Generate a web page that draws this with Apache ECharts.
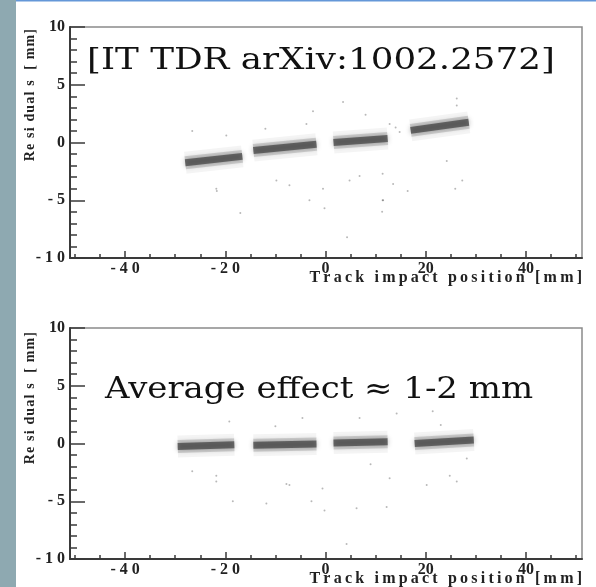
<!DOCTYPE html>
<html>
<head>
<meta charset="utf-8">
<script src="https://cdn.jsdelivr.net/npm/echarts@6/dist/echarts.min.js"></script>
<style>
html, body { margin: 0; padding: 0; background: #fff; }
#chart { width: 596px; height: 587px; }
</style>
</head>
<body>
<div id="chart"></div>
<script>
// silicon modules: band start/end (x in mm) and mean residual at each end (mm)
var moduleNames = ['M1', 'M2', 'M3', 'M4'];
var topXStart = [-28.0, -14.4, 1.6, 17.0];
var topXEnd   = [-16.6, -1.8, 12.4, 28.6];
var topYStart = [-1.75, -0.7, 0.0, 1.05];
var topYEnd   = [-1.2, -0.15, 0.35, 1.75];
var botXStart = [-29.5, -14.4, 1.6, 17.8];
var botXEnd   = [-18.2, -1.8, 12.4, 29.6];
var botYStart = [-0.25, -0.15, 0.05, 0.0];
var botYEnd   = [-0.1, -0.05, 0.15, 0.3];

// sparse hits away from the bands
var topStray = [[-21.7, -4.2], [-17, -6.1], [-0.5, -4.0], [-3.2, -5.0], [11.5, -5.0], [11.3, -6.0],
  [16.4, -4.2], [25.9, -4.0], [27.3, -3.3], [4.3, -8.2], [-0.2, -5.7], [13.5, -3.6],
  [-2.5, 2.7], [3.5, 3.5], [12.8, 1.6], [14.8, 0.9], [26.2, 3.2], [11.4, -2.7], [6.8, -2.9],
  [24.2, -1.6], [26.2, 3.8], [-21.8, -4.0], [-9.8, -3.3], [-7.2, -3.7], [-26.6, 1.0],
  [-19.8, 0.6], [-3.8, 1.6], [4.8, -3.3], [11.4, -5.0], [14.0, 1.3], [-12, 1.2], [8, 2.4]];
var botStray = [[-21.8, -2.8], [-7.2, -3.6], [-0.6, -3.9], [12.8, -3.0], [20.2, -3.6], [24.8, -2.8],
  [-19.2, 1.9], [-4.6, 2.2], [6.8, 2.2], [14.2, 2.6], [21.4, 2.8], [-26.6, -2.4], [28.2, -1.3],
  [-2.8, -5.0], [6.2, -5.6], [12.2, -5.5], [26.2, -3.3], [4.2, -8.7], [-0.2, -5.8],
  [-21.8, -3.3], [-18.5, -5.0], [-11.8, -5.2], [-7.8, -3.5], [-10, 1.5], [9, -1.8], [23, 1.6]];

var xMajor = [-40, -20, 0, 20, 40];
var xTickLabels = ['- 4 0', '- 2 0', '0', '20', '40'];
var xMinor = [-50, -45, -35, -30, -25, -15, -10, -5, 5, 10, 15, 25, 30, 35, 45, 50];
var yMajor = [-10, -5, 0, 5, 10];
var yTickLabels = ['- 1 0', '- 5', '0', '5', '10'];

var xTitle = 'Track impact position [mm]';
var yTitle = 'Re si dual s  [ mm]';
var topNote = '[IT TDR arXiv:1002.2572]';
var botNote = 'Average effect \u2248 1-2 mm';

function spaced(s, gap) {
  return s.split('').join(gap);
}

var chart = echarts.init(document.getElementById('chart'));
var axisColor = '#3a3a3a';
var tickFont = { fontFamily: 'Liberation Serif', fontWeight: 'bold', fontSize: 16, color: '#222' };
var panels = [{ top: 27 }, { top: 328 }];

var grids = [], xAxes = [], yAxes = [], series = [];

// soft band look: faint halo, medium, dark core
var bandLayers = [
  { w: 22, c: 'rgba(0,0,0,0.045)', blur: 6 },
  { w: 13, c: 'rgba(0,0,0,0.14)', blur: 5 },
  { w: 7, c: 'rgba(40,40,40,0.58)', blur: 5 }
];

panels.forEach(function (p, g) {
  grids.push({ left: 70, top: p.top, width: 512, height: 231, show: true,
    borderColor: '#8a8a8a', borderWidth: 1.5 });
  xAxes.push({
    type: 'value', gridIndex: g, min: -51, max: 51.2, position: 'bottom',
    axisLine: { onZero: false, lineStyle: { color: axisColor, width: 2 } },
    axisTick: { inside: true, length: 7, customValues: xMajor, lineStyle: { color: axisColor, width: 1.5 } },
    axisLabel: Object.assign({ customValues: xMajor, margin: 3,
      formatter: function (v) { return xTickLabels[xMajor.indexOf(v)]; } }, tickFont),
    splitLine: { show: false }
  });
  xAxes.push({
    type: 'value', gridIndex: g, min: -51, max: 51.2, position: 'bottom',
    axisLine: { show: false, onZero: false },
    axisTick: { inside: true, length: 4, customValues: xMinor, lineStyle: { color: axisColor, width: 1.5 } },
    axisLabel: { show: false },
    splitLine: { show: false }
  });
  yAxes.push({
    type: 'value', gridIndex: g, min: -10, max: 10, interval: 5,
    axisLine: { show: true, onZero: false, lineStyle: { color: axisColor, width: 2 } },
    axisTick: { inside: true, length: 15, lineStyle: { color: axisColor, width: 1.5 } },
    minorTick: { show: true, splitNumber: 5, length: 7, lineStyle: { color: axisColor, width: 1.5 } },
    axisLabel: Object.assign({ margin: 5,
      formatter: function (v) { return yTickLabels[yMajor.indexOf(v)]; } }, tickFont),
    splitLine: { show: false }
  });

  var xs = g === 0 ? topXStart : botXStart;
  var xe = g === 0 ? topXEnd : botXEnd;
  var ys = g === 0 ? topYStart : botYStart;
  var ye = g === 0 ? topYEnd : botYEnd;
  bandLayers.forEach(function (L) {
    moduleNames.forEach(function (m, i) {
      series.push({
        name: m, type: 'line', xAxisIndex: g * 2, yAxisIndex: g,
        symbol: 'none', silent: true,
        data: [[xs[i], ys[i]], [xe[i], ye[i]]],
        lineStyle: { width: L.w, color: L.c, cap: 'butt', shadowBlur: L.blur, shadowColor: L.c }
      });
    });
  });
  series.push({
    type: 'scatter', xAxisIndex: g * 2, yAxisIndex: g, silent: true,
    symbolSize: 2, data: g === 0 ? topStray : botStray,
    itemStyle: { color: 'rgba(0,0,0,0.35)' }
  });
});

var titleStyle = { fontFamily: 'Liberation Serif', fontWeight: 'bold', fontSize: 16, fill: '#222' };
var yTitleStyle = { fontFamily: 'Liberation Serif', fontWeight: 'bold', fontSize: 14, fill: '#222' };
var noteStyle = { fontFamily: 'DejaVu Serif', fontSize: 29, fill: '#111' };

function textEl(x, y, rot, text, base, align, sx) {
  return { type: 'text', x: x, y: y, rotation: rot, scaleX: sx || 1,
    style: Object.assign({ text: text, align: align, verticalAlign: 'middle' }, base) };
}

chart.setOption({
  animation: false,
  backgroundColor: '#fff',
  grid: grids,
  xAxis: xAxes,
  yAxis: yAxes,
  series: series,
  graphic: [
    { type: 'rect', shape: { x: 0, y: 0, width: 16, height: 587 }, style: { fill: '#8ea9b1' } },
    { type: 'rect', shape: { x: 16, y: 0, width: 580, height: 1.5 }, style: { fill: '#6497d8' } },
    textEl(582, 278, 0, spaced(xTitle, '\u2009'), titleStyle, 'right'),
    textEl(582, 579, 0, spaced(xTitle, '\u2009'), titleStyle, 'right'),
    textEl(30, 29, Math.PI / 2, spaced(yTitle, '\u200a'), yTitleStyle, 'right'),
    textEl(30, 332, Math.PI / 2, spaced(yTitle, '\u200a'), yTitleStyle, 'right'),
    textEl(87, 61, 0, topNote, noteStyle, 'left', 1.23),
    textEl(105, 390, 0, botNote, noteStyle, 'left', 1.17)
  ]
});
</script>
</body>
</html>
